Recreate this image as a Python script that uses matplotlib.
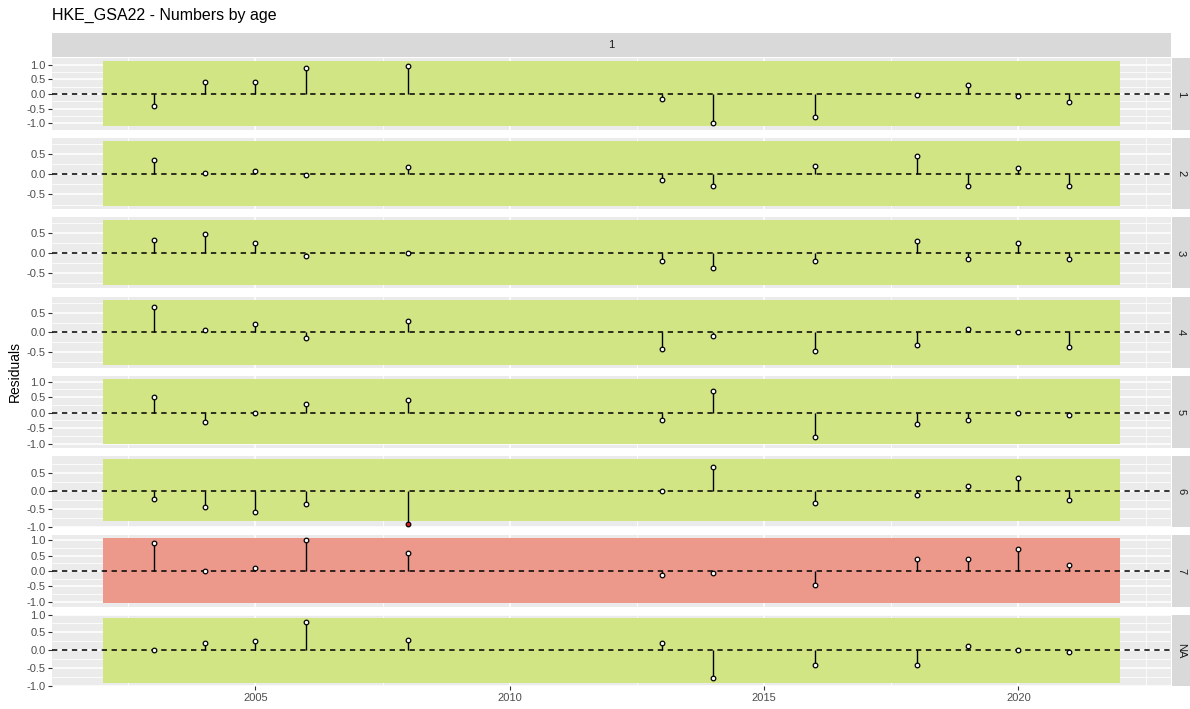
import matplotlib
matplotlib.use("Agg")
import matplotlib.pyplot as plt
from matplotlib.ticker import MultipleLocator, FormatStrFormatter
import numpy as np

plt.rcParams['font.family'] = ['Liberation Sans', 'DejaVu Sans']
plt.rcParams['axes.unicode_minus'] = False

title = "HKE_GSA22 - Numbers by age"
ylabel = "Residuals"
top_strip = "1"
ages = ["1", "2", "3", "4", "5", "6", "7", "NA"]
years = [2003, 2004, 2005, 2006, 2008, 2013, 2014, 2016, 2018, 2019, 2020, 2021]

res_age1 = [-0.41, 0.41, 0.41, 0.90, 0.97, -0.18, -0.98, -0.78, -0.03, 0.30, -0.07, -0.28]
res_age2 = [0.35, 0.03, 0.07, -0.02, 0.18, -0.14, -0.29, 0.19, 0.44, -0.29, 0.14, -0.29]
res_age3 = [0.33, 0.46, 0.25, -0.07, -0.01, -0.20, -0.38, -0.20, 0.30, -0.16, 0.25, -0.16]
res_age4 = [0.64, 0.05, 0.21, -0.14, 0.28, -0.42, -0.09, -0.46, -0.33, 0.09, 0.02, -0.36]
res_age5 = [0.51, -0.31, -0.02, 0.29, 0.42, -0.25, 0.70, -0.77, -0.38, -0.25, -0.02, -0.09]
res_age6 = [-0.23, -0.44, -0.58, -0.36, -0.92, -0.01, 0.66, -0.33, -0.12, 0.12, 0.36, -0.27]
res_age7 = [0.92, 0.01, 0.11, 1.00, 0.59, -0.13, -0.07, -0.45, 0.38, 0.38, 0.72, 0.20]
res_ageNA = [0.02, 0.20, 0.27, 0.78, 0.30, 0.19, -0.79, -0.41, -0.41, 0.13, 0.02, -0.06]
residuals = [res_age1, res_age2, res_age3, res_age4, res_age5, res_age6, res_age7, res_ageNA]

# 3-sigma limits and runs-test result per age
sigma_lo = [-1.10, -0.78, -0.80, -0.82, -1.02, -0.85, -1.05, -0.91]
sigma_hi = [1.12, 0.82, 0.81, 0.83, 1.08, 0.89, 1.07, 0.91]
runs_pass = [True, True, True, True, True, True, False, True]

GREEN = "#D2E584"
RED = "#EC998C"
PANEL_BG = "#EBEBEB"
STRIP_BG = "#D9D9D9"

W, H = 1190, 709
fig = plt.figure(figsize=(W / 100, H / 100), dpi=100)


def frect(x0, y0, x1, y1):
    return [x0 / W, 1 - y1 / H, (x1 - x0) / W, (y1 - y0) / H]


left_px, right_px = 52, 1171
top0, ph, step = 58, 71.5, 79.5

x_lo_rect = years[0] - 1
x_hi_rect = years[-1] + 1
xpad = 0.05 * (x_hi_rect - x_lo_rect)

for i, age in enumerate(ages):
    y0 = top0 + i * step
    ax = fig.add_axes(frect(left_px, y0, right_px, y0 + ph))
    ax.set_facecolor(PANEL_BG)
    for s in ax.spines.values():
        s.set_visible(False)
    vals = np.array(residuals[i])
    lo, hi = sigma_lo[i], sigma_hi[i]
    dmin = min(lo, vals.min())
    dmax = max(hi, vals.max())
    pad = 0.05 * (dmax - dmin)
    ax.set_ylim(dmin - pad, dmax + pad)
    ax.set_xlim(x_lo_rect - xpad, x_hi_rect + xpad)

    ax.yaxis.set_major_locator(MultipleLocator(0.5))
    ax.yaxis.set_minor_locator(MultipleLocator(0.25))
    ax.xaxis.set_major_locator(MultipleLocator(5))
    ax.xaxis.set_minor_locator(MultipleLocator(2.5))
    ax.yaxis.set_major_formatter(FormatStrFormatter('%.1f'))
    ax.grid(which='major', color='white', lw=1.1, zorder=0)
    ax.grid(which='minor', color='white', lw=0.55, zorder=0)
    ax.set_axisbelow(True)
    ax.tick_params(axis='y', which='major', length=3, width=0.8, color='#333333',
                   labelsize=8, labelcolor='#4D4D4D', pad=1.5)
    ax.tick_params(which='minor', length=0)
    if i < len(ages) - 1:
        ax.tick_params(axis='x', which='major', length=0, labelbottom=False)
    else:
        ax.tick_params(axis='x', which='major', length=3, width=0.8, color='#333333',
                       labelsize=8, labelcolor='#4D4D4D', pad=2)

    ax.fill_between([x_lo_rect, x_hi_rect], lo, hi,
                    color=GREEN if runs_pass[i] else RED, lw=0, zorder=1)
    ax.axhline(0, color='black', lw=1.1, dashes=(3.5, 3), zorder=2)
    ax.vlines(years, 0, vals, color='black', lw=1.0, zorder=3)
    out = (vals < lo) | (vals > hi)
    yrs = np.array(years)
    ax.scatter(yrs[~out], vals[~out], s=11, facecolor='white', edgecolor='black',
               lw=0.9, zorder=4)
    ax.scatter(yrs[out], vals[out], s=11, facecolor='#E41A1C', edgecolor='black',
               lw=0.9, zorder=4)

    # right strip
    sax = fig.add_axes(frect(1172, y0, 1190, y0 + ph))
    sax.set_facecolor(STRIP_BG)
    sax.set_xticks([]); sax.set_yticks([])
    for s in sax.spines.values():
        s.set_visible(False)
    sax.text(0.5, 0.5, age, rotation=-90, ha='center', va='center',
             fontsize=8, color='#1A1A1A', transform=sax.transAxes)

# top strip
tax = fig.add_axes(frect(left_px, 33, right_px, 57))
tax.set_facecolor(STRIP_BG)
tax.set_xticks([]); tax.set_yticks([])
for s in tax.spines.values():
    s.set_visible(False)
tax.text(0.5, 0.5, top_strip, ha='center', va='center', fontsize=8,
         color='#1A1A1A', transform=tax.transAxes)

fig.text(52 / W, 1 - 15 / H, title, ha='left', va='center', fontsize=11.5, color='black')
fig.text(15 / W, 1 - ((top0 + top0 + 7 * step + ph) / 2) / H, ylabel, rotation=90,
         ha='center', va='center', fontsize=10, color='black')

fig.savefig("out.png", dpi=100)
